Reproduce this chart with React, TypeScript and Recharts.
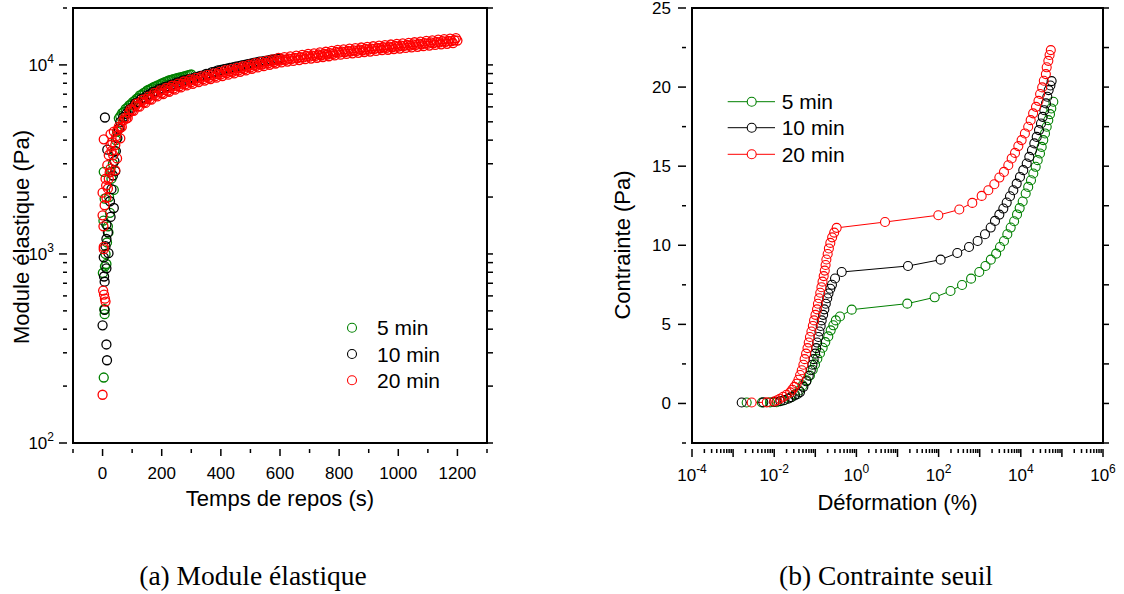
import React from "react";
import { ScatterChart, Scatter, XAxis, YAxis, ReferenceArea, Legend } from "recharts";

const SANS = '"Liberation Sans", Arial, Helvetica, sans-serif';
const SERIF = '"Liberation Serif", "Times New Roman", serif';

const seriesNames = ["5 min", "10 min", "20 min"];
const seriesColors = ["#008000", "#000000", "#ff0000"];

// (a) module élastique : [temps de repos (s), G' (Pa)]
const modulus5: [number, number][] = [
  [1, 793], [13, 885], [4, 222], [7, 480], [6, 510], [8, 860], [10, 1000], [15, 1150], [18, 1400],
  [3, 1500], [20, 1300], [25, 1650], [7, 1960], [22, 2000], [38, 2180], [30, 2500], [4, 2720],
  [27, 2720], [35, 3000], [40, 3500], [45, 4000], [49, 4440], [55, 5220],
  [60, 5350], [66, 5550], [72, 5650], [78, 5850], [84, 5950], [90, 6100], [96, 6200], [102, 6350],
  [108, 6450], [114, 6600], [120, 6700], [126, 6900], [132, 6950], [138, 7100], [144, 7150],
  [150, 7300], [156, 7400], [162, 7450], [168, 7550], [174, 7650], [180, 7700], [186, 7800],
  [192, 7850], [198, 7950], [204, 8000], [210, 8100], [216, 8150], [222, 8250], [228, 8300],
  [234, 8350], [240, 8400], [246, 8450], [252, 8500], [258, 8550], [264, 8600], [270, 8650],
  [276, 8700], [282, 8750], [288, 8800], [294, 8850], [300, 8900],
];

const modulus10: [number, number][] = [
  [0, 419], [13, 332], [15, 274], [7, 506], [5, 760], [7, 713], [13, 839], [4, 960], [10, 1100],
  [20, 1010], [13, 1200], [18, 1300], [13, 1430], [27, 1570], [38, 1750], [25, 1900], [30, 2200],
  [35, 2600], [43, 2740], [40, 3100], [45, 3500], [16, 3560], [50, 4100], [55, 4600], [8, 5270],
  [60, 5000], [70, 5300], [80, 5500], [90, 5800], [100, 5950], [110, 6250], [120, 6350], [130, 6600],
  [140, 6700], [150, 6900], [160, 7000], [170, 7200], [180, 7250], [190, 7450], [200, 7500],
  [210, 7650], [220, 7700], [230, 7850], [240, 7900], [250, 8050], [260, 8100], [270, 8250],
  [280, 8300], [290, 8400], [300, 8450], [310, 8550], [320, 8650], [330, 8750], [340, 8800],
  [350, 8950], [360, 9000], [370, 9150], [380, 9200], [390, 9350], [400, 9400], [410, 9500],
  [420, 9550], [430, 9650], [440, 9700], [450, 9800], [460, 9850], [470, 9950], [480, 10000],
  [490, 10100], [500, 10150], [510, 10250], [520, 10300], [530, 10400], [540, 10450], [550, 10500],
  [560, 10550], [570, 10650], [580, 10700], [590, 10800], [600, 10800],
];

const modulus20: [number, number][] = [
  [0, 180], [2, 640], [5, 610], [8, 580], [10, 560], [4, 1060], [4, 1090], [3, 1400], [0, 1600],
  [7, 1810], [13, 1980], [0, 2110], [18, 2220], [12, 2300], [21, 2500], [10, 2500], [24, 2700],
  [43, 2770], [27, 2830], [16, 2950], [21, 3330], [36, 3330], [49, 3200], [30, 3500], [43, 3770],
  [27, 3770], [33, 3900], [4, 4040], [46, 4200], [27, 4300], [38, 4440], [50, 4500], [60, 4090],
  [55, 4720],
  [60, 4650], [70, 5080], [80, 5200], [90, 5600], [100, 5750], [110, 6050], [120, 6050], [130, 6350],
  [140, 6350], [150, 6600], [160, 6600], [170, 6900], [180, 6900], [190, 7150], [200, 7100],
  [210, 7350], [220, 7300], [230, 7550], [240, 7500], [250, 7750], [260, 7700], [270, 7950],
  [280, 7900], [290, 8150], [300, 8100], [310, 8300], [320, 8250], [330, 8480], [340, 8400],
  [350, 8650], [360, 8550], [370, 8800], [380, 8700], [390, 8950], [400, 8900], [410, 9130],
  [420, 9060], [430, 9250], [440, 9200], [450, 9400], [460, 9350], [470, 9600], [480, 9500],
  [490, 9780], [500, 9700], [510, 9950], [520, 9900], [530, 10100], [540, 10050], [550, 10250],
  [560, 10200], [570, 10450], [580, 10350], [590, 10600], [600, 10550], [610, 10700], [620, 10650],
  [630, 10800], [640, 10750], [650, 10900], [660, 10850], [670, 11000], [680, 10950], [690, 11150],
  [700, 11050], [710, 11200], [720, 11150], [730, 11350], [740, 11250], [750, 11450], [760, 11350],
  [770, 11550], [780, 11450], [790, 11700], [800, 11600], [810, 11750], [820, 11700], [830, 11850],
  [840, 11800], [850, 11950], [860, 11850], [870, 12050], [880, 11950], [890, 12150], [900, 12050],
  [910, 12200], [920, 12150], [930, 12300], [940, 12250], [950, 12400], [960, 12300], [970, 12500],
  [980, 12400], [990, 12600], [1000, 12500], [1010, 12650], [1020, 12600], [1030, 12750],
  [1040, 12650], [1050, 12850], [1060, 12750], [1070, 12950], [1080, 12850], [1090, 13050],
  [1100, 12950], [1110, 13150], [1120, 13050], [1130, 13250], [1140, 13150], [1150, 13350],
  [1160, 13250], [1170, 13400], [1180, 13350], [1190, 13500], [1200, 13450],
  // points between, showing the spread of the band
  [65, 4700], [75, 5250], [85, 5240], [95, 5820], [105, 5720], [115, 6230], [125, 6010], [135, 6540],
  [145, 6290], [155, 6800], [165, 6550], [175, 7110], [185, 6810], [195, 7330], [205, 7010],
  [215, 7550], [225, 7210], [235, 7760], [245, 7400], [255, 7960], [265, 7600], [275, 8170],
  [285, 7790], [295, 8370], [305, 7950], [315, 8530], [325, 8120], [335, 8690], [345, 8260],
  [355, 8860], [365, 8420], [375, 9010], [385, 8560], [395, 9190], [405, 8730], [415, 9370],
  [425, 8880], [435, 9510], [445, 9020], [455, 9660], [465, 9190], [475, 9840], [485, 9350],
  [495, 10030], [505, 9540], [515, 10230], [525, 9700], [535, 10380], [545, 9850], [555, 10540],
  [565, 10010], [575, 10710], [585, 10170], [595, 10890], [605, 10310], [615, 11000], [625, 10410],
  [635, 11100], [645, 10500], [655, 11210], [665, 10600], [675, 11310], [685, 10720], [695, 11430],
  [705, 10800], [715, 11520], [725, 10910], [735, 11640], [745, 11010], [755, 11740], [765, 11110],
  [775, 11850], [785, 11230], [795, 12000], [805, 11330], [815, 12080], [825, 11430], [835, 12180],
  [845, 11520], [855, 12260], [865, 11590], [875, 12360], [885, 11690], [895, 12460], [905, 11770],
  [915, 12550], [925, 11860], [935, 12650], [945, 11960], [955, 12720], [965, 12030], [975, 12820],
  [985, 12130], [995, 12930], [1005, 12200], [1015, 13010], [1025, 12300], [1035, 13080],
  [1045, 12370], [1055, 13180], [1065, 12460], [1075, 13290], [1085, 12560], [1095, 13390],
  [1105, 12660], [1115, 13490], [1125, 12760], [1135, 13600], [1145, 12850], [1155, 13700],
  [1165, 12930], [1175, 13780], [1185, 13030], [1195, 13870],
];

// (b) contrainte seuil : [déformation (%), contrainte (Pa)]
const stress5: [number, number][] = [
  [0.00214, 0.06], [0.00501, 0.06], [0.00794, 0.07], [0.0115, 0.08], [0.0166, 0.19], [0.0242, 0.36],
  [0.0321, 0.57], [0.0407, 0.82], [0.049, 1.14], [0.0617, 1.46], [0.0741, 1.77], [0.0865, 2.13],
  [0.0984, 2.47], [0.112, 2.83], [0.13, 3.18], [0.151, 3.52], [0.175, 3.88], [0.207, 4.24],
  [0.237, 4.62], [0.275, 4.94], [0.316, 5.25], [0.398, 5.5], [0.769, 5.93],
  [17.3, 6.31], [80.2, 6.71], [195, 7.11], [372, 7.49], [617, 7.89], [977, 8.31], [1380, 8.69],
  [1862, 9.09], [2512, 9.47], [3119, 9.89], [3899, 10.27], [4699, 10.7], [5675, 11.12],
  [6887, 11.52], [8091, 11.95], [9376, 12.35], [11120, 12.77], [13150, 13.27], [15140, 13.69],
  [17700, 14.11], [20140, 14.54], [23010, 14.96], [25760, 15.38], [29310, 15.8], [32210, 16.22],
  [35240, 16.65], [38810, 17.07], [42660, 17.49], [46670, 17.91], [51290, 18.29], [55210, 18.65],
  [61800, 19.07],
];

const stress10: [number, number][] = [
  [0.00162, 0.06], [0.00543, 0.07], [0.01, 0.1], [0.0141, 0.15], [0.0178, 0.22], [0.0219, 0.3],
  [0.0263, 0.4], [0.0316, 0.5], [0.0372, 0.6], [0.0425, 0.72], [0.0513, 1.05], [0.0603, 1.4],
  [0.0692, 1.75], [0.0776, 2.1], [0.0851, 2.45], [0.0912, 2.8], [0.0989, 3.15], [0.105, 3.5],
  [0.111, 3.85], [0.119, 4.2], [0.126, 4.55], [0.135, 4.9], [0.143, 5.25], [0.155, 5.6],
  [0.166, 5.95], [0.18, 6.3], [0.195, 6.65], [0.209, 6.95], [0.232, 7.25], [0.254, 7.5],
  [0.302, 7.9], [0.439, 8.31],
  [18.0, 8.69], [112, 9.09], [285, 9.51], [550, 9.89], [891, 10.27], [1346, 10.7], [1849, 11.12],
  [2355, 11.54], [3006, 11.94], [3758, 12.32], [4539, 12.7], [5458, 13.1], [6577, 13.48],
  [7943, 13.9], [9550, 14.32], [11480, 14.75], [13930, 15.17], [16110, 15.59], [18710, 16.01],
  [21330, 16.44], [24380, 16.85], [27730, 17.28], [30970, 17.7], [34120, 18.12], [37330, 18.54],
  [41020, 18.97], [44160, 19.39], [47640, 19.81], [52480, 20.1], [56230, 20.38],
];

const stress20: [number, number][] = [
  [0.00283, 0.06], [0.0066, 0.07], [0.01, 0.12], [0.0118, 0.2], [0.0138, 0.3], [0.0166, 0.42],
  [0.02, 0.55], [0.0245, 0.7], [0.0275, 0.87], [0.0309, 1.05], [0.0352, 1.25], [0.0389, 1.5],
  [0.0427, 1.8], [0.0468, 2.1], [0.0513, 2.45], [0.055, 2.8], [0.0596, 3.15], [0.0646, 3.5],
  [0.0692, 3.85], [0.0741, 4.2], [0.0804, 4.55], [0.0871, 4.9], [0.0933, 5.25], [0.101, 5.6],
  [0.11, 5.95], [0.116, 6.3], [0.124, 6.65], [0.132, 7.0], [0.141, 7.35], [0.15, 7.7],
  [0.16, 8.05], [0.17, 8.4], [0.178, 8.75], [0.186, 9.1], [0.2, 9.45], [0.214, 9.8],
  [0.232, 10.15], [0.257, 10.5], [0.288, 10.8], [0.331, 11.1],
  [4.97, 11.47], [98.4, 11.9], [319, 12.26], [661, 12.68], [1117, 13.12], [1622, 13.48],
  [2270, 13.86], [3006, 14.28], [3890, 14.64], [4966, 15.06], [6000, 15.49], [7228, 15.84],
  [8710, 16.27], [10470, 16.65], [12590, 17.07], [15140, 17.49], [17380, 17.91], [19950, 18.34],
  [23440, 18.75], [26920, 19.13], [29510, 19.56], [33110, 19.98], [36310, 20.4], [40740, 20.82],
  [42660, 21.25], [46770, 21.66], [50120, 22.03], [53700, 22.34],
];

const leftXTicks = [-100, 0, 100, 200, 300, 400, 500, 600, 700, 800, 900, 1000, 1100, 1200, 1300];
const leftYTicks = [
  100, 200, 300, 400, 500, 600, 700, 800, 900,
  1000, 2000, 3000, 4000, 5000, 6000, 7000, 8000, 9000,
  10000, 20000,
];
const rightYTicks = [-2.5, 0, 2.5, 5, 7.5, 10, 12.5, 15, 17.5, 20, 22.5, 25];
const strainDecades = [1e-4, 1e-3, 1e-2, 1e-1, 1, 10, 100, 1e3, 1e4, 1e5];
const minorSteps = [1, 2, 3, 4, 5, 6, 7, 8, 9];
const rightXTicks = strainDecades.flatMap((d) => minorSteps.map((m) => d * m)).concat([1e6]);

const isDecade = (v: number) => {
  const e = Math.log10(v);
  return Math.abs(e - Math.round(e)) < 1e-6;
};

function PowerLabel({ x, y, exp, anchor }: { x: number; y: number; exp: number; anchor: "end" | "middle" }) {
  return (
    <text x={x} y={y} textAnchor={anchor} fontFamily={SANS} fontSize={17} fill="#000">
      10
      <tspan dy={-8} fontSize={12}>
        {exp}
      </tspan>
    </text>
  );
}

const tickStroke = { stroke: "#000", strokeWidth: 1.5 };

const LeftYTick = (p: any) => {
  const v = p.payload.value;
  const major = isDecade(v);
  return (
    <g>
      <line x1={p.x - (major ? 8 : 4)} x2={p.x} y1={p.y} y2={p.y} {...tickStroke} />
      {major && <PowerLabel x={p.x - 13} y={p.y + 6} exp={Math.round(Math.log10(v))} anchor="end" />}
    </g>
  );
};

const InnerRightTick = (p: any) => <line x1={p.x - 5} x2={p.x} y1={p.y} y2={p.y} {...tickStroke} />;

const LeftXTick = (p: any) => {
  const v = p.payload.value;
  const major = v >= 0 && v <= 1200 && v % 200 === 0;
  return (
    <g>
      <line x1={p.x} x2={p.x} y1={p.y} y2={p.y + (major ? 7 : 4)} {...tickStroke} />
      {major && (
        <text x={p.x} y={p.y + 30} textAnchor="middle" fontFamily={SANS} fontSize={17} fill="#000">
          {v}
        </text>
      )}
    </g>
  );
};

const RightXTick = (p: any) => {
  const v = p.payload.value;
  const major = isDecade(v);
  const exp = Math.round(Math.log10(v));
  return (
    <g>
      <line x1={p.x} x2={p.x} y1={p.y} y2={p.y + (major ? 8 : 4)} {...tickStroke} />
      {major && exp % 2 === 0 && <PowerLabel x={p.x} y={p.y + 32} exp={exp} anchor="middle" />}
    </g>
  );
};

const RightYTick = (p: any) => {
  const v = p.payload.value;
  const major = v % 5 === 0;
  return (
    <g>
      <line x1={p.x - (major ? 8 : 4)} x2={p.x} y1={p.y} y2={p.y} {...tickStroke} />
      {major && (
        <text x={p.x - 15} y={p.y + 6} textAnchor="end" fontFamily={SANS} fontSize={17} fill="#000">
          {v}
        </text>
      )}
    </g>
  );
};

const ring = (color: string, width = 1.1) => (p: any) =>
  <circle cx={p.cx} cy={p.cy} r={4.5} fill="none" stroke={color} strokeWidth={width} />;
const disc = (p: any) => <circle cx={p.cx} cy={p.cy} r={4.5} fill="#fff" />;

const titleProps = { fontFamily: SANS, fontSize: 22, fill: "#000", textAnchor: "middle" as const };

const axisCommon = {
  type: "number" as const,
  interval: 0 as const,
  allowDataOverflow: true,
  tickLine: false,
  axisLine: false,
  tickMargin: 0,
};

function ScatterLegend({ withLine }: { withLine: boolean }) {
  const rowY = withLine ? [16.7, 42.7, 69.3] : [17.7, 44, 70.3];
  const cx = withLine ? 31.7 : 12;
  const tx = withLine ? 61.7 : 37;
  return (
    <svg width={150} height={90} style={{ display: "block" }}>
      {seriesNames.map((name, i) => (
        <g key={name}>
          {withLine && <line x1={7.7} x2={55} y1={rowY[i]} y2={rowY[i]} stroke={seriesColors[i]} strokeWidth={1} />}
          <circle cx={cx} cy={rowY[i]} r={4.5} fill="#fff" stroke={seriesColors[i]} strokeWidth={1.1} />
          <text x={tx} y={rowY[i] + 7.5} fontFamily={SANS} fontSize={21} fill="#000">
            {name}
          </text>
        </g>
      ))}
    </svg>
  );
}

function ModulusChart() {
  const data = [modulus5, modulus10, modulus20].map((s) => s.map(([t, g]) => ({ t, g })));
  return (
    <ScatterChart width={530} height={594} margin={{ top: 8, right: 33, bottom: 121, left: 13 }}>
      <XAxis
        {...axisCommon}
        dataKey="t"
        domain={[-100, 1300]}
        ticks={leftXTicks}
        height={30}
        tick={LeftXTick}
        label={{
          content: (p: any) => (
            <text x={p.viewBox.x + p.viewBox.width / 2} y={p.viewBox.y + 63} {...titleProps}>
              Temps de repos (s)
            </text>
          ),
        }}
      />
      <YAxis
        {...axisCommon}
        dataKey="g"
        scale="log"
        domain={[100, 20000]}
        ticks={leftYTicks}
        width={60}
        tick={LeftYTick}
        label={{
          content: (p: any) => {
            const x = p.viewBox.x + 15.5;
            const y = p.viewBox.y + p.viewBox.height / 2 + 11.5;
            return (
              <text x={x} y={y} transform={`rotate(-90, ${x}, ${y})`} {...titleProps}>
                Module élastique (Pa)
              </text>
            );
          },
        }}
      />
      <YAxis
        {...axisCommon}
        yAxisId="r"
        orientation="right"
        scale="log"
        domain={[100, 20000]}
        ticks={leftYTicks}
        width={10}
        tick={InnerRightTick}
      />
      {data.map((d, i) => (
        <Scatter
          key={seriesNames[i]}
          name={seriesNames[i]}
          data={d}
          shape={ring(seriesColors[i], 1.3)}
          isAnimationActive={false}
        />
      ))}
      <ReferenceArea x1={-100} x2={1300} y1={100} y2={20000} fill="none" stroke="#000" strokeWidth={2} ifOverflow="visible" />
      <Legend
        layout="vertical"
        align="center"
        verticalAlign="middle"
        width={150}
        height={90}
        wrapperStyle={{ left: 340, top: 310 }}
        content={() => <ScatterLegend withLine={false} />}
      />
    </ScatterChart>
  );
}

function YieldChart() {
  const data = [stress5, stress10, stress20].map((s) => s.map(([x, y]) => ({ x, y })));
  return (
    <ScatterChart width={564} height={594} margin={{ top: 8, right: 11, bottom: 121, left: 72 }}>
      <XAxis
        {...axisCommon}
        dataKey="x"
        scale="log"
        domain={[1e-4, 1e6]}
        ticks={rightXTicks}
        height={30}
        tick={RightXTick}
        label={{
          content: (p: any) => (
            <text x={p.viewBox.x + p.viewBox.width / 2} y={p.viewBox.y + 67} {...titleProps}>
              Déformation (%)
            </text>
          ),
        }}
      />
      <YAxis
        {...axisCommon}
        dataKey="y"
        domain={[-2.5, 25]}
        ticks={rightYTicks}
        width={60}
        tick={RightYTick}
        label={{
          content: (p: any) => {
            const x = p.viewBox.x + p.viewBox.width - 62;
            const y = p.viewBox.y + p.viewBox.height / 2 + 19.5;
            return (
              <text x={x} y={y} transform={`rotate(-90, ${x}, ${y})`} {...titleProps}>
                Contrainte (Pa)
              </text>
            );
          },
        }}
      />
      <YAxis
        {...axisCommon}
        yAxisId="r"
        orientation="right"
        domain={[-2.5, 25]}
        ticks={rightYTicks}
        width={10}
        tick={InnerRightTick}
      />
      {data.map((d, i) => (
        <Scatter
          key={"l" + i}
          name={seriesNames[i]}
          data={d}
          line={{ stroke: seriesColors[i], strokeWidth: 1 }}
          shape={disc}
          isAnimationActive={false}
        />
      ))}
      {data.map((d, i) => (
        <Scatter key={"r" + i} data={d} shape={ring(seriesColors[i])} isAnimationActive={false} legendType="none" />
      ))}
      <ReferenceArea x1={1e-4} x2={1e6} y1={-2.5} y2={25} fill="none" stroke="#000" strokeWidth={2} ifOverflow="visible" />
      <Legend
        layout="vertical"
        align="center"
        verticalAlign="middle"
        width={150}
        height={90}
        wrapperStyle={{ left: 160, top: 85 }}
        content={() => <ScatterLegend withLine />}
      />
    </ScatterChart>
  );
}

const captionStyle: React.CSSProperties = {
  position: "absolute",
  top: 563,
  width: 400,
  textAlign: "center",
  fontFamily: SERIF,
  fontSize: 27.5,
  lineHeight: "26px",
  color: "#000",
  whiteSpace: "nowrap",
};

export default function App() {
  return (
    <div style={{ position: "absolute", left: 0, top: 0, width: 1124, height: 594, background: "#fff", overflow: "hidden" }}>
      <div style={{ position: "absolute", left: 0, top: 0 }}>
        <ModulusChart />
      </div>
      <div style={{ position: "absolute", left: 560, top: 0 }}>
        <YieldChart />
      </div>
      <div style={{ ...captionStyle, left: 53 }}>(a) Module élastique</div>
      <div style={{ ...captionStyle, left: 686 }}>(b) Contrainte seuil</div>
    </div>
  );
}
